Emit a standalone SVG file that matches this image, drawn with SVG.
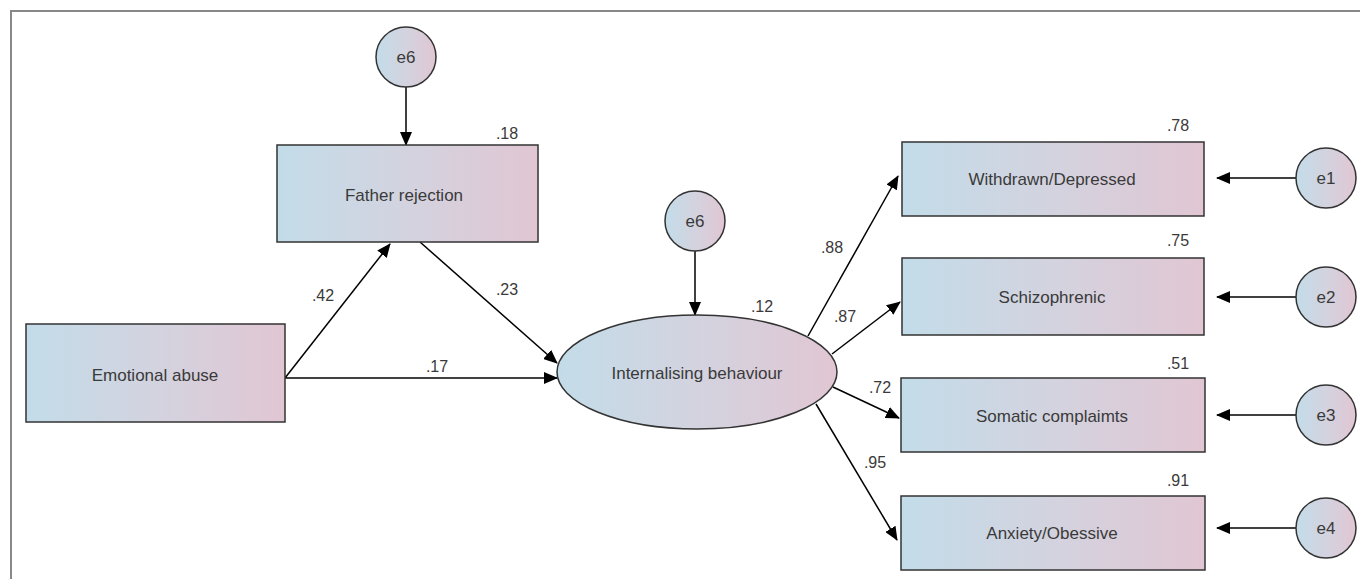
<svg xmlns="http://www.w3.org/2000/svg" width="1360" height="579" viewBox="0 0 1360 579">
<defs>
<linearGradient id="g" x1="0" y1="0" x2="1" y2="0">
<stop offset="0" stop-color="#c3dce9"/>
<stop offset="0.5" stop-color="#d3d3df"/>
<stop offset="1" stop-color="#e1c6d3"/>
</linearGradient>
<marker id="ah" markerUnits="userSpaceOnUse" markerWidth="14" markerHeight="12" refX="13" refY="6" orient="auto">
<path d="M0,0 L14,6 L0,12 Z" fill="#000"/>
</marker>
<style>
.box{fill:url(#g);stroke:#333;stroke-width:1.5}
.t{font-family:"Liberation Sans",Arial,sans-serif;font-size:16px;fill:#3a3a3a;text-anchor:middle;dominant-baseline:central}
.n{font-size:17px}
.c{stroke:#000;stroke-width:1.5;fill:none;marker-end:url(#ah)}
</style>
</defs>
<rect width="1360" height="579" fill="#fff"/>
<path d="M11,579 V11 H1360" fill="none" stroke="#888" stroke-width="2"/>
<g id="connectors">
<line class="c" x1="406" y1="87" x2="406" y2="145"/>
<line class="c" x1="695" y1="251" x2="695" y2="315"/>
<line class="c" x1="285" y1="378" x2="390" y2="244"/>
<line class="c" x1="420" y1="242" x2="557" y2="363"/>
<line class="c" x1="285" y1="378" x2="557" y2="378"/>
<line class="c" x1="808" y1="336" x2="898" y2="176"/>
<line class="c" x1="832" y1="354" x2="900" y2="302"/>
<line class="c" x1="833" y1="387" x2="899" y2="418"/>
<line class="c" x1="816" y1="404" x2="897" y2="540"/>
<line class="c" x1="1296" y1="178" x2="1217" y2="178"/>
<line class="c" x1="1296" y1="297" x2="1217" y2="297"/>
<line class="c" x1="1296" y1="415" x2="1217" y2="415"/>
<line class="c" x1="1296" y1="528" x2="1217" y2="528"/>
</g>
<g id="labels">
<text class="t" x="507" y="133">.18</text>
<text class="t" x="323" y="295">.42</text>
<text class="t" x="507" y="289">.23</text>
<text class="t" x="437" y="366">.17</text>
<text class="t" x="762" y="306">.12</text>
<text class="t" x="832" y="247">.88</text>
<text class="t" x="845" y="316">.87</text>
<text class="t" x="880" y="387">.72</text>
<text class="t" x="875" y="462">.95</text>
<text class="t" x="1178" y="125">.78</text>
<text class="t" x="1178" y="240">.75</text>
<text class="t" x="1178" y="363">.51</text>
<text class="t" x="1178" y="480">.91</text>
</g>
<g id="e6a"><circle class="box" cx="406" cy="57" r="30"/><text class="t n" x="406" y="57">e6</text></g>
<g id="father"><rect class="box" x="277" y="145" width="261" height="97"/><text class="t n" x="404" y="195">Father rejection</text></g>
<g id="emotional"><rect class="box" x="26" y="324" width="259" height="98"/><text class="t n" x="155" y="375">Emotional abuse</text></g>
<g id="e6b"><circle class="box" cx="695" cy="221" r="30"/><text class="t n" x="695" y="221">e6</text></g>
<g id="internalising"><ellipse class="box" cx="697" cy="372" rx="140" ry="57"/><text class="t n" x="697" y="373">Internalising behaviour</text></g>
<g id="withdrawn"><rect class="box" x="902" y="142" width="302" height="74"/><text class="t n" x="1052" y="179">Withdrawn/Depressed</text></g>
<g id="schizo"><rect class="box" x="902" y="258" width="302" height="77"/><text class="t n" x="1052" y="297">Schizophrenic</text></g>
<g id="somatic"><rect class="box" x="901" y="378" width="304" height="74"/><text class="t n" x="1052" y="416">Somatic complaimts</text></g>
<g id="anxiety"><rect class="box" x="901" y="496" width="304" height="74"/><text class="t n" x="1052" y="533">Anxiety/Obessive</text></g>
<g id="e1"><circle class="box" cx="1326" cy="178" r="30"/><text class="t n" x="1326" y="178">e1</text></g>
<g id="e2"><circle class="box" cx="1326" cy="297" r="30"/><text class="t n" x="1326" y="297">e2</text></g>
<g id="e3"><circle class="box" cx="1326" cy="415" r="30"/><text class="t n" x="1326" y="415">e3</text></g>
<g id="e4"><circle class="box" cx="1326" cy="528" r="30"/><text class="t n" x="1326" y="528">e4</text></g>
</svg>
